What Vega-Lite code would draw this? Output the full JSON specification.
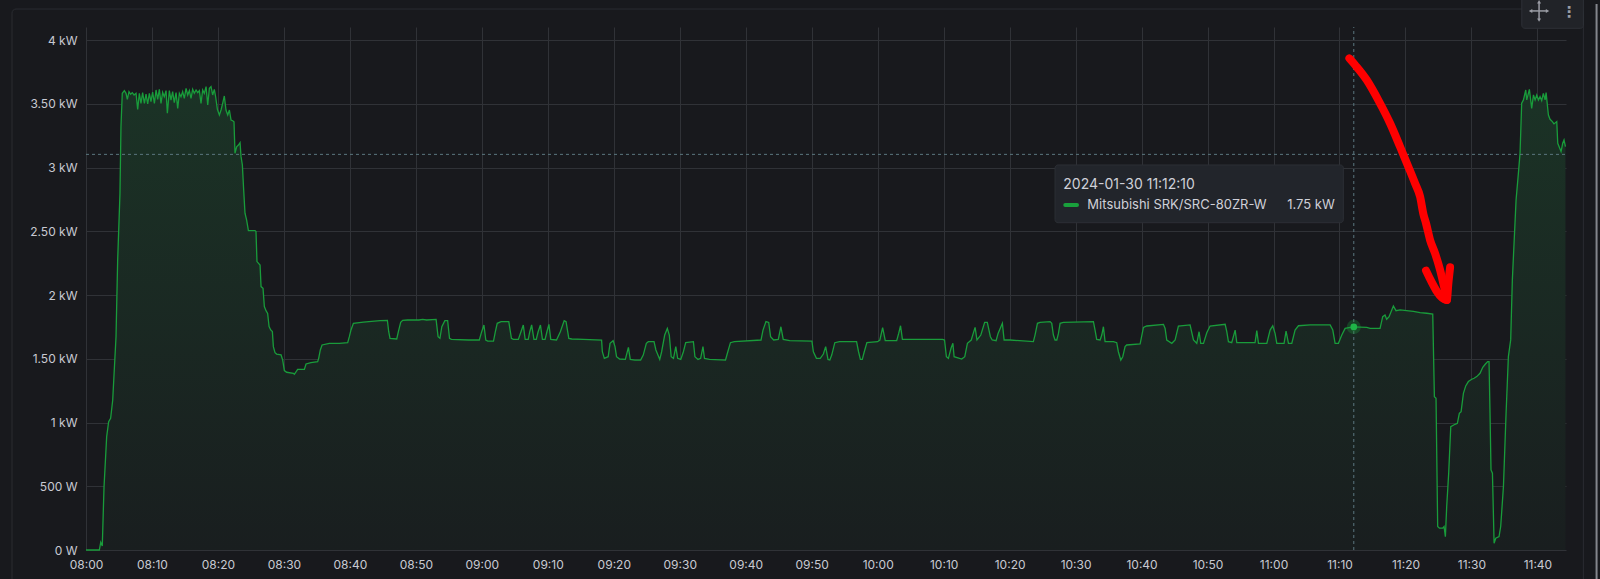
{
  "$schema": "https://vega.github.io/schema/vega-lite/v6.json",
  "width": 1480,
  "height": 523,
  "autosize": {"type": "none"},
  "padding": {"left": 86, "top": 27, "right": 34, "bottom": 29},
  "background": "#18191d",
  "config": {"view": {"stroke": null}, "font": "Inter"},
  "datasets": {
    "main": [
      {"t":"2024-01-30T08:00:00Z","v":0},{"t":"2024-01-30T08:02:01Z","v":0},{"t":"2024-01-30T08:02:14Z","v":60},{"t":"2024-01-30T08:02:28Z","v":31},
      {"t":"2024-01-30T08:02:44Z","v":497},{"t":"2024-01-30T08:03:08Z","v":889},{"t":"2024-01-30T08:03:26Z","v":1006},{"t":"2024-01-30T08:03:44Z","v":1033},
      {"t":"2024-01-30T08:04:03Z","v":1176},{"t":"2024-01-30T08:04:33Z","v":1673},{"t":"2024-01-30T08:04:48Z","v":2275},{"t":"2024-01-30T08:05:09Z","v":2797},
      {"t":"2024-01-30T08:05:18Z","v":3320},{"t":"2024-01-30T08:05:30Z","v":3582},{"t":"2024-01-30T08:05:49Z","v":3603},{"t":"2024-01-30T08:06:04Z","v":3582},
      {"t":"2024-01-30T08:06:16Z","v":3535},{"t":"2024-01-30T08:06:31Z","v":3595},{"t":"2024-01-30T08:06:46Z","v":3574},{"t":"2024-01-30T08:07:01Z","v":3587},
      {"t":"2024-01-30T08:07:17Z","v":3569},{"t":"2024-01-30T08:07:35Z","v":3582},{"t":"2024-01-30T08:07:50Z","v":3456},{"t":"2024-01-30T08:08:05Z","v":3582},
      {"t":"2024-01-30T08:08:20Z","v":3503},{"t":"2024-01-30T08:08:35Z","v":3587},{"t":"2024-01-30T08:08:51Z","v":3503},{"t":"2024-01-30T08:09:06Z","v":3576},
      {"t":"2024-01-30T08:09:21Z","v":3498},{"t":"2024-01-30T08:09:36Z","v":3582},{"t":"2024-01-30T08:09:51Z","v":3516},{"t":"2024-01-30T08:10:06Z","v":3592},
      {"t":"2024-01-30T08:10:22Z","v":3503},{"t":"2024-01-30T08:10:37Z","v":3608},{"t":"2024-01-30T08:10:52Z","v":3535},{"t":"2024-01-30T08:11:07Z","v":3613},
      {"t":"2024-01-30T08:11:22Z","v":3503},{"t":"2024-01-30T08:11:37Z","v":3589},{"t":"2024-01-30T08:11:52Z","v":3555},{"t":"2024-01-30T08:12:08Z","v":3603},
      {"t":"2024-01-30T08:12:20Z","v":3425},{"t":"2024-01-30T08:12:38Z","v":3603},{"t":"2024-01-30T08:12:53Z","v":3529},{"t":"2024-01-30T08:13:08Z","v":3595},
      {"t":"2024-01-30T08:13:23Z","v":3508},{"t":"2024-01-30T08:13:39Z","v":3587},{"t":"2024-01-30T08:13:54Z","v":3464},{"t":"2024-01-30T08:14:09Z","v":3582},
      {"t":"2024-01-30T08:14:24Z","v":3555},{"t":"2024-01-30T08:14:39Z","v":3595},{"t":"2024-01-30T08:14:54Z","v":3542},{"t":"2024-01-30T08:15:10Z","v":3621},
      {"t":"2024-01-30T08:15:25Z","v":3569},{"t":"2024-01-30T08:15:40Z","v":3603},{"t":"2024-01-30T08:15:55Z","v":3542},{"t":"2024-01-30T08:16:10Z","v":3613},
      {"t":"2024-01-30T08:16:25Z","v":3582},{"t":"2024-01-30T08:16:41Z","v":3608},{"t":"2024-01-30T08:16:56Z","v":3587},{"t":"2024-01-30T08:17:11Z","v":3603},
      {"t":"2024-01-30T08:17:26Z","v":3503},{"t":"2024-01-30T08:17:41Z","v":3608},{"t":"2024-01-30T08:17:56Z","v":3582},{"t":"2024-01-30T08:18:12Z","v":3634},
      {"t":"2024-01-30T08:18:27Z","v":3490},{"t":"2024-01-30T08:18:42Z","v":3621},{"t":"2024-01-30T08:18:57Z","v":3634},{"t":"2024-01-30T08:19:12Z","v":3569},
      {"t":"2024-01-30T08:19:27Z","v":3613},{"t":"2024-01-30T08:19:39Z","v":3555},{"t":"2024-01-30T08:19:55Z","v":3456},{"t":"2024-01-30T08:20:13Z","v":3412},
      {"t":"2024-01-30T08:20:28Z","v":3451},{"t":"2024-01-30T08:20:43Z","v":3503},{"t":"2024-01-30T08:20:58Z","v":3561},{"t":"2024-01-30T08:21:13Z","v":3451},
      {"t":"2024-01-30T08:21:29Z","v":3412},{"t":"2024-01-30T08:21:44Z","v":3451},{"t":"2024-01-30T08:21:59Z","v":3372},{"t":"2024-01-30T08:22:14Z","v":3367},
      {"t":"2024-01-30T08:22:26Z","v":3359},{"t":"2024-01-30T08:22:35Z","v":3111},{"t":"2024-01-30T08:22:50Z","v":3163},{"t":"2024-01-30T08:23:06Z","v":3176},
      {"t":"2024-01-30T08:23:21Z","v":3195},{"t":"2024-01-30T08:23:30Z","v":3085},{"t":"2024-01-30T08:23:42Z","v":3020},{"t":"2024-01-30T08:23:54Z","v":2824},
      {"t":"2024-01-30T08:24:06Z","v":2641},{"t":"2024-01-30T08:24:21Z","v":2588},{"t":"2024-01-30T08:24:37Z","v":2505},{"t":"2024-01-30T08:25:37Z","v":2505},
      {"t":"2024-01-30T08:25:46Z","v":2497},{"t":"2024-01-30T08:25:55Z","v":2262},{"t":"2024-01-30T08:26:23Z","v":2235},{"t":"2024-01-30T08:26:32Z","v":2066},
      {"t":"2024-01-30T08:26:50Z","v":2052},{"t":"2024-01-30T08:27:02Z","v":1909},{"t":"2024-01-30T08:27:17Z","v":1877},{"t":"2024-01-30T08:27:32Z","v":1856},
      {"t":"2024-01-30T08:27:45Z","v":1752},{"t":"2024-01-30T08:28:00Z","v":1726},{"t":"2024-01-30T08:28:15Z","v":1713},{"t":"2024-01-30T08:28:24Z","v":1595},
      {"t":"2024-01-30T08:28:39Z","v":1548},{"t":"2024-01-30T08:28:54Z","v":1537},{"t":"2024-01-30T08:29:34Z","v":1530},{"t":"2024-01-30T08:29:49Z","v":1490},
      {"t":"2024-01-30T08:30:04Z","v":1407},{"t":"2024-01-30T08:30:25Z","v":1394},{"t":"2024-01-30T08:31:26Z","v":1386},{"t":"2024-01-30T08:31:35Z","v":1378},
      {"t":"2024-01-30T08:32:05Z","v":1417},{"t":"2024-01-30T08:33:06Z","v":1417},{"t":"2024-01-30T08:33:21Z","v":1459},{"t":"2024-01-30T08:34:06Z","v":1470},
      {"t":"2024-01-30T08:35:07Z","v":1477},{"t":"2024-01-30T08:35:16Z","v":1503},{"t":"2024-01-30T08:35:31Z","v":1569},{"t":"2024-01-30T08:35:47Z","v":1608},
      {"t":"2024-01-30T08:36:53Z","v":1621},{"t":"2024-01-30T08:38:24Z","v":1621},{"t":"2024-01-30T08:39:40Z","v":1626},{"t":"2024-01-30T08:39:55Z","v":1673},
      {"t":"2024-01-30T08:40:10Z","v":1726},{"t":"2024-01-30T08:40:32Z","v":1778},{"t":"2024-01-30T08:42:02Z","v":1788},{"t":"2024-01-30T08:44:34Z","v":1799},
      {"t":"2024-01-30T08:45:41Z","v":1801},{"t":"2024-01-30T08:45:53Z","v":1712},{"t":"2024-01-30T08:46:05Z","v":1660},{"t":"2024-01-30T08:47:06Z","v":1655},
      {"t":"2024-01-30T08:47:21Z","v":1712},{"t":"2024-01-30T08:47:42Z","v":1786},{"t":"2024-01-30T08:48:00Z","v":1801},{"t":"2024-01-30T08:48:44Z","v":1804},
      {"t":"2024-01-30T08:50:28Z","v":1804},{"t":"2024-01-30T08:51:02Z","v":1809},{"t":"2024-01-30T08:51:37Z","v":1804},{"t":"2024-01-30T08:53:04Z","v":1809},
      {"t":"2024-01-30T08:53:22Z","v":1673},{"t":"2024-01-30T08:53:39Z","v":1660},{"t":"2024-01-30T08:53:56Z","v":1751},{"t":"2024-01-30T08:54:24Z","v":1799},
      {"t":"2024-01-30T08:54:49Z","v":1799},{"t":"2024-01-30T08:55:06Z","v":1660},{"t":"2024-01-30T08:55:23Z","v":1652},{"t":"2024-01-30T08:58:00Z","v":1647},
      {"t":"2024-01-30T08:59:37Z","v":1647},{"t":"2024-01-30T08:59:54Z","v":1699},{"t":"2024-01-30T09:00:19Z","v":1765},{"t":"2024-01-30T09:00:36Z","v":1647},
      {"t":"2024-01-30T09:00:54Z","v":1639},{"t":"2024-01-30T09:01:46Z","v":1639},{"t":"2024-01-30T09:02:03Z","v":1712},{"t":"2024-01-30T09:02:20Z","v":1778},
      {"t":"2024-01-30T09:02:55Z","v":1791},{"t":"2024-01-30T09:04:05Z","v":1791},{"t":"2024-01-30T09:04:29Z","v":1660},{"t":"2024-01-30T09:04:46Z","v":1652},
      {"t":"2024-01-30T09:05:32Z","v":1652},{"t":"2024-01-30T09:05:56Z","v":1712},{"t":"2024-01-30T09:06:17Z","v":1765},{"t":"2024-01-30T09:06:34Z","v":1652},
      {"t":"2024-01-30T09:07:02Z","v":1652},{"t":"2024-01-30T09:07:16Z","v":1712},{"t":"2024-01-30T09:07:33Z","v":1765},{"t":"2024-01-30T09:07:54Z","v":1652},
      {"t":"2024-01-30T09:08:15Z","v":1652},{"t":"2024-01-30T09:08:32Z","v":1712},{"t":"2024-01-30T09:08:53Z","v":1765},{"t":"2024-01-30T09:09:11Z","v":1652},
      {"t":"2024-01-30T09:09:35Z","v":1652},{"t":"2024-01-30T09:09:52Z","v":1712},{"t":"2024-01-30T09:10:10Z","v":1770},{"t":"2024-01-30T09:10:27Z","v":1652},
      {"t":"2024-01-30T09:11:19Z","v":1647},{"t":"2024-01-30T09:11:54Z","v":1712},{"t":"2024-01-30T09:12:29Z","v":1799},{"t":"2024-01-30T09:12:46Z","v":1791},
      {"t":"2024-01-30T09:13:11Z","v":1660},{"t":"2024-01-30T09:13:38Z","v":1655},{"t":"2024-01-30T09:15:23Z","v":1652},{"t":"2024-01-30T09:18:09Z","v":1647},
      {"t":"2024-01-30T09:18:16Z","v":1555},{"t":"2024-01-30T09:18:34Z","v":1503},{"t":"2024-01-30T09:19:09Z","v":1516},{"t":"2024-01-30T09:19:26Z","v":1621},
      {"t":"2024-01-30T09:19:54Z","v":1642},{"t":"2024-01-30T09:20:11Z","v":1595},{"t":"2024-01-30T09:20:25Z","v":1516},{"t":"2024-01-30T09:20:53Z","v":1498},
      {"t":"2024-01-30T09:21:45Z","v":1495},{"t":"2024-01-30T09:22:13Z","v":1589},{"t":"2024-01-30T09:22:30Z","v":1495},{"t":"2024-01-30T09:23:12Z","v":1490},
      {"t":"2024-01-30T09:24:04Z","v":1490},{"t":"2024-01-30T09:24:28Z","v":1529},{"t":"2024-01-30T09:24:56Z","v":1621},{"t":"2024-01-30T09:25:14Z","v":1634},
      {"t":"2024-01-30T09:26:06Z","v":1634},{"t":"2024-01-30T09:26:23Z","v":1569},{"t":"2024-01-30T09:26:58Z","v":1495},{"t":"2024-01-30T09:27:15Z","v":1555},
      {"t":"2024-01-30T09:27:43Z","v":1686},{"t":"2024-01-30T09:28:07Z","v":1738},{"t":"2024-01-30T09:28:25Z","v":1686},{"t":"2024-01-30T09:28:42Z","v":1516},
      {"t":"2024-01-30T09:29:03Z","v":1503},{"t":"2024-01-30T09:29:24Z","v":1595},{"t":"2024-01-30T09:29:41Z","v":1503},{"t":"2024-01-30T09:30:09Z","v":1495},
      {"t":"2024-01-30T09:30:33Z","v":1555},{"t":"2024-01-30T09:30:54Z","v":1626},{"t":"2024-01-30T09:32:04Z","v":1634},{"t":"2024-01-30T09:32:18Z","v":1516},
      {"t":"2024-01-30T09:32:46Z","v":1495},{"t":"2024-01-30T09:33:10Z","v":1503},{"t":"2024-01-30T09:33:31Z","v":1595},{"t":"2024-01-30T09:33:45Z","v":1503},
      {"t":"2024-01-30T09:34:30Z","v":1495},{"t":"2024-01-30T09:36:56Z","v":1490},{"t":"2024-01-30T09:37:17Z","v":1555},{"t":"2024-01-30T09:37:41Z","v":1626},
      {"t":"2024-01-30T09:38:16Z","v":1634},{"t":"2024-01-30T09:42:19Z","v":1647},{"t":"2024-01-30T09:42:37Z","v":1725},{"t":"2024-01-30T09:43:04Z","v":1791},
      {"t":"2024-01-30T09:43:29Z","v":1785},{"t":"2024-01-30T09:43:46Z","v":1673},{"t":"2024-01-30T09:44:14Z","v":1647},{"t":"2024-01-30T09:44:56Z","v":1652},
      {"t":"2024-01-30T09:45:20Z","v":1751},{"t":"2024-01-30T09:45:41Z","v":1652},{"t":"2024-01-30T09:46:40Z","v":1642},{"t":"2024-01-30T09:50:02Z","v":1639},
      {"t":"2024-01-30T09:50:15Z","v":1555},{"t":"2024-01-30T09:50:43Z","v":1503},{"t":"2024-01-30T09:51:18Z","v":1503},{"t":"2024-01-30T09:51:46Z","v":1537},
      {"t":"2024-01-30T09:52:07Z","v":1595},{"t":"2024-01-30T09:52:28Z","v":1495},{"t":"2024-01-30T09:52:45Z","v":1490},{"t":"2024-01-30T09:53:02Z","v":1529},
      {"t":"2024-01-30T09:53:30Z","v":1626},{"t":"2024-01-30T09:54:12Z","v":1634},{"t":"2024-01-30T09:56:48Z","v":1634},{"t":"2024-01-30T09:57:06Z","v":1555},
      {"t":"2024-01-30T09:57:23Z","v":1495},{"t":"2024-01-30T09:57:40Z","v":1495},{"t":"2024-01-30T09:57:58Z","v":1555},{"t":"2024-01-30T09:58:22Z","v":1626},
      {"t":"2024-01-30T09:59:59Z","v":1634},{"t":"2024-01-30T10:00:20Z","v":1647},{"t":"2024-01-30T10:00:45Z","v":1744},{"t":"2024-01-30T10:01:09Z","v":1642},
      {"t":"2024-01-30T10:02:53Z","v":1642},{"t":"2024-01-30T10:03:11Z","v":1699},{"t":"2024-01-30T10:03:28Z","v":1759},{"t":"2024-01-30T10:03:45Z","v":1652},
      {"t":"2024-01-30T10:09:50Z","v":1652},{"t":"2024-01-30T10:10:08Z","v":1647},{"t":"2024-01-30T10:10:25Z","v":1516},{"t":"2024-01-30T10:10:43Z","v":1503},
      {"t":"2024-01-30T10:11:07Z","v":1582},{"t":"2024-01-30T10:11:24Z","v":1621},{"t":"2024-01-30T10:11:35Z","v":1516},{"t":"2024-01-30T10:12:44Z","v":1498},
      {"t":"2024-01-30T10:13:12Z","v":1516},{"t":"2024-01-30T10:13:36Z","v":1621},{"t":"2024-01-30T10:14:11Z","v":1647},{"t":"2024-01-30T10:14:29Z","v":1699},
      {"t":"2024-01-30T10:14:46Z","v":1746},{"t":"2024-01-30T10:15:03Z","v":1647},{"t":"2024-01-30T10:15:38Z","v":1686},{"t":"2024-01-30T10:16:13Z","v":1785},
      {"t":"2024-01-30T10:16:37Z","v":1785},{"t":"2024-01-30T10:17:05Z","v":1673},{"t":"2024-01-30T10:17:22Z","v":1647},{"t":"2024-01-30T10:17:57Z","v":1642},
      {"t":"2024-01-30T10:18:15Z","v":1699},{"t":"2024-01-30T10:18:54Z","v":1778},{"t":"2024-01-30T10:19:10Z","v":1647},{"t":"2024-01-30T10:20:04Z","v":1647},
      {"t":"2024-01-30T10:23:36Z","v":1634},{"t":"2024-01-30T10:23:51Z","v":1686},{"t":"2024-01-30T10:24:13Z","v":1778},{"t":"2024-01-30T10:24:37Z","v":1785},
      {"t":"2024-01-30T10:26:08Z","v":1791},{"t":"2024-01-30T10:26:23Z","v":1778},{"t":"2024-01-30T10:26:38Z","v":1686},{"t":"2024-01-30T10:26:53Z","v":1647},
      {"t":"2024-01-30T10:27:09Z","v":1647},{"t":"2024-01-30T10:27:24Z","v":1699},{"t":"2024-01-30T10:27:39Z","v":1778},{"t":"2024-01-30T10:28:09Z","v":1785},
      {"t":"2024-01-30T10:32:42Z","v":1791},{"t":"2024-01-30T10:32:57Z","v":1725},{"t":"2024-01-30T10:33:12Z","v":1652},{"t":"2024-01-30T10:33:43Z","v":1647},
      {"t":"2024-01-30T10:33:58Z","v":1686},{"t":"2024-01-30T10:34:13Z","v":1751},{"t":"2024-01-30T10:34:28Z","v":1634},{"t":"2024-01-30T10:35:44Z","v":1634},
      {"t":"2024-01-30T10:36:14Z","v":1626},{"t":"2024-01-30T10:36:29Z","v":1555},{"t":"2024-01-30T10:36:51Z","v":1490},{"t":"2024-01-30T10:37:09Z","v":1516},
      {"t":"2024-01-30T10:37:30Z","v":1595},{"t":"2024-01-30T10:37:45Z","v":1608},{"t":"2024-01-30T10:39:47Z","v":1616},{"t":"2024-01-30T10:40:17Z","v":1746},
      {"t":"2024-01-30T10:40:47Z","v":1757},{"t":"2024-01-30T10:43:19Z","v":1770},{"t":"2024-01-30T10:43:34Z","v":1738},{"t":"2024-01-30T10:43:49Z","v":1647},
      {"t":"2024-01-30T10:44:35Z","v":1621},{"t":"2024-01-30T10:45:05Z","v":1647},{"t":"2024-01-30T10:45:35Z","v":1757},{"t":"2024-01-30T10:47:21Z","v":1765},
      {"t":"2024-01-30T10:47:52Z","v":1647},{"t":"2024-01-30T10:48:22Z","v":1621},{"t":"2024-01-30T10:48:43Z","v":1712},{"t":"2024-01-30T10:48:58Z","v":1621},
      {"t":"2024-01-30T10:49:23Z","v":1621},{"t":"2024-01-30T10:49:53Z","v":1704},{"t":"2024-01-30T10:50:23Z","v":1757},{"t":"2024-01-30T10:52:40Z","v":1770},
      {"t":"2024-01-30T10:52:55Z","v":1712},{"t":"2024-01-30T10:53:10Z","v":1634},{"t":"2024-01-30T10:53:40Z","v":1626},{"t":"2024-01-30T10:54:11Z","v":1725},
      {"t":"2024-01-30T10:54:26Z","v":1626},{"t":"2024-01-30T10:57:12Z","v":1626},{"t":"2024-01-30T10:57:28Z","v":1720},{"t":"2024-01-30T10:57:43Z","v":1621},
      {"t":"2024-01-30T10:58:59Z","v":1621},{"t":"2024-01-30T10:59:29Z","v":1725},{"t":"2024-01-30T10:59:53Z","v":1759},{"t":"2024-01-30T11:00:14Z","v":1699},
      {"t":"2024-01-30T11:00:30Z","v":1621},{"t":"2024-01-30T11:01:36Z","v":1621},{"t":"2024-01-30T11:01:54Z","v":1717},{"t":"2024-01-30T11:02:16Z","v":1621},
      {"t":"2024-01-30T11:02:46Z","v":1621},{"t":"2024-01-30T11:03:16Z","v":1725},{"t":"2024-01-30T11:03:47Z","v":1759},{"t":"2024-01-30T11:05:33Z","v":1765},
      {"t":"2024-01-30T11:08:35Z","v":1765},{"t":"2024-01-30T11:08:59Z","v":1725},{"t":"2024-01-30T11:09:20Z","v":1621},{"t":"2024-01-30T11:09:50Z","v":1621},
      {"t":"2024-01-30T11:10:21Z","v":1686},{"t":"2024-01-30T11:10:51Z","v":1738},{"t":"2024-01-30T11:11:37Z","v":1746},{"t":"2024-01-30T11:12:10Z","v":1750},
      {"t":"2024-01-30T11:14:08Z","v":1746},{"t":"2024-01-30T11:14:38Z","v":1738},{"t":"2024-01-30T11:16:09Z","v":1739},{"t":"2024-01-30T11:16:33Z","v":1830},
      {"t":"2024-01-30T11:16:54Z","v":1843},{"t":"2024-01-30T11:17:09Z","v":1810},{"t":"2024-01-30T11:17:31Z","v":1830},{"t":"2024-01-30T11:18:10Z","v":1914},
      {"t":"2024-01-30T11:18:34Z","v":1877},{"t":"2024-01-30T11:19:11Z","v":1883},{"t":"2024-01-30T11:20:11Z","v":1877},{"t":"2024-01-30T11:21:12Z","v":1872},
      {"t":"2024-01-30T11:22:13Z","v":1862},{"t":"2024-01-30T11:23:13Z","v":1857},{"t":"2024-01-30T11:24:08Z","v":1851},{"t":"2024-01-30T11:24:14Z","v":1595},
      {"t":"2024-01-30T11:24:23Z","v":1203},{"t":"2024-01-30T11:24:38Z","v":1190},{"t":"2024-01-30T11:24:53Z","v":184},{"t":"2024-01-30T11:25:09Z","v":171},
      {"t":"2024-01-30T11:25:39Z","v":171},{"t":"2024-01-30T11:25:51Z","v":184},{"t":"2024-01-30T11:26:03Z","v":105},{"t":"2024-01-30T11:26:15Z","v":340},
      {"t":"2024-01-30T11:26:33Z","v":602},{"t":"2024-01-30T11:26:52Z","v":968},{"t":"2024-01-30T11:27:31Z","v":986},{"t":"2024-01-30T11:27:52Z","v":994},
      {"t":"2024-01-30T11:28:10Z","v":1072},{"t":"2024-01-30T11:28:26Z","v":1085},{"t":"2024-01-30T11:28:47Z","v":1229},{"t":"2024-01-30T11:29:08Z","v":1287},
      {"t":"2024-01-30T11:29:32Z","v":1321},{"t":"2024-01-30T11:30:03Z","v":1339},{"t":"2024-01-30T11:30:24Z","v":1347},{"t":"2024-01-30T11:30:48Z","v":1360},
      {"t":"2024-01-30T11:31:18Z","v":1386},{"t":"2024-01-30T11:31:43Z","v":1433},{"t":"2024-01-30T11:32:07Z","v":1459},{"t":"2024-01-30T11:32:28Z","v":1478},
      {"t":"2024-01-30T11:32:40Z","v":1478},{"t":"2024-01-30T11:32:49Z","v":1072},{"t":"2024-01-30T11:32:58Z","v":628},{"t":"2024-01-30T11:33:11Z","v":602},
      {"t":"2024-01-30T11:33:26Z","v":53},{"t":"2024-01-30T11:33:41Z","v":92},{"t":"2024-01-30T11:34:11Z","v":105},{"t":"2024-01-30T11:34:26Z","v":184},
      {"t":"2024-01-30T11:34:51Z","v":497},{"t":"2024-01-30T11:35:15Z","v":1072},{"t":"2024-01-30T11:35:36Z","v":1517},{"t":"2024-01-30T11:35:57Z","v":1648},
      {"t":"2024-01-30T11:36:12Z","v":2118},{"t":"2024-01-30T11:36:46Z","v":2746},{"t":"2024-01-30T11:37:07Z","v":2955},{"t":"2024-01-30T11:37:22Z","v":3112},
      {"t":"2024-01-30T11:37:37Z","v":3504},{"t":"2024-01-30T11:37:53Z","v":3530},{"t":"2024-01-30T11:38:14Z","v":3608},{"t":"2024-01-30T11:38:23Z","v":3530},
      {"t":"2024-01-30T11:38:47Z","v":3613},{"t":"2024-01-30T11:39:08Z","v":3464},{"t":"2024-01-30T11:39:24Z","v":3569},{"t":"2024-01-30T11:39:39Z","v":3530},
      {"t":"2024-01-30T11:39:54Z","v":3569},{"t":"2024-01-30T11:40:09Z","v":3530},{"t":"2024-01-30T11:40:24Z","v":3556},{"t":"2024-01-30T11:40:39Z","v":3525},
      {"t":"2024-01-30T11:40:54Z","v":3582},{"t":"2024-01-30T11:41:10Z","v":3530},{"t":"2024-01-30T11:41:19Z","v":3587},{"t":"2024-01-30T11:41:40Z","v":3412},
      {"t":"2024-01-30T11:41:55Z","v":3378},{"t":"2024-01-30T11:42:16Z","v":3360},{"t":"2024-01-30T11:42:31Z","v":3342},{"t":"2024-01-30T11:42:56Z","v":3360},
      {"t":"2024-01-30T11:43:05Z","v":3190},{"t":"2024-01-30T11:43:35Z","v":3125},{"t":"2024-01-30T11:43:50Z","v":3190},{"t":"2024-01-30T11:44:02Z","v":3216},
      {"t":"2024-01-30T11:44:15Z","v":3164}
    ],
    "arrow": [
      {"g":"s","t":"2024-01-30T11:11:30Z","v":3856},{"g":"s","t":"2024-01-30T11:12:22Z","v":3804},
      {"g":"s","t":"2024-01-30T11:14:08Z","v":3686},{"g":"s","t":"2024-01-30T11:15:53Z","v":3529},
      {"g":"s","t":"2024-01-30T11:17:40Z","v":3347},{"g":"s","t":"2024-01-30T11:19:11Z","v":3163},
      {"g":"s","t":"2024-01-30T11:20:26Z","v":3006},{"g":"s","t":"2024-01-30T11:21:27Z","v":2876},
      {"g":"s","t":"2024-01-30T11:22:13Z","v":2771},{"g":"s","t":"2024-01-30T11:22:43Z","v":2635},
      {"g":"s","t":"2024-01-30T11:23:07Z","v":2562},{"g":"s","t":"2024-01-30T11:23:44Z","v":2431},
      {"g":"s","t":"2024-01-30T11:24:29Z","v":2327},{"g":"s","t":"2024-01-30T11:25:15Z","v":2196},
      {"g":"s","t":"2024-01-30T11:25:51Z","v":2065},{"g":"s","t":"2024-01-30T11:26:16Z","v":1961},
      {"g":"h","t":"2024-01-30T11:23:07Z","v":2191},{"g":"h","t":"2024-01-30T11:26:16Z","v":1961},
      {"g":"h","t":"2024-01-30T11:26:30Z","v":2092},{"g":"h","t":"2024-01-30T11:26:46Z","v":2217}
    ]
  },
  "encoding": {
    "x": {
      "field": "t", "type": "temporal",
      "scale": {"type": "utc", "domain": [1706601600000, 1706615060000], "nice": false},
      "axis": {"labelExpr": "utcFormat(datum.value, '%H:%M')", "values": [1706601600000, 1706602200000, 1706602800000, 1706603400000, 1706604000000, 1706604600000, 1706605200000, 1706605800000, 1706606400000, 1706607000000, 1706607600000, 1706608200000, 1706608800000, 1706609400000, 1706610000000, 1706610600000, 1706611200000, 1706611800000, 1706612400000, 1706613000000, 1706613600000, 1706614200000, 1706614800000], "grid": true, "gridColor": "#303237", "gridWidth": 1, "domain": false, "ticks": false, "tickSize": 0, "labelPadding": 9, "labelColor": "#c8c9d2", "labelFont": "Inter", "labelFontSize": 12, "labelFlush": false, "labelOverlap": false, "title": null}
    },
    "y": {
      "field": "v", "type": "quantitative",
      "scale": {"domain": [0, 4102], "nice": false, "zero": false},
      "axis": {"values": [0, 500, 1000, 1500, 2000, 2500, 3000, 3500, 4000], "labelExpr": "datum.value < 1000 ? datum.value + ' W' : (datum.value % 1000 == 0 ? (datum.value / 1000) + ' kW' : format(datum.value / 1000, '.2f') + ' kW')", "grid": true, "gridColor": "#303237", "gridWidth": 1, "domain": false, "ticks": false, "tickSize": 0, "labelPadding": 9, "labelColor": "#c8c9d2", "labelFont": "Inter", "labelFontSize": 12, "title": null}
    }
  },
  "layer": [
    {"data": {"values": [{"t": "2024-01-30T07:48:47Z", "t2": "2024-01-30T11:46:58Z", "v": 4243, "v2": -1500}]},
     "mark": {"type": "rect", "filled": false, "stroke": "#2a2c31", "strokeWidth": 1, "cornerRadius": 4},
     "encoding": {"x2": {"field": "t2"}, "y2": {"field": "v2"}}},
    {"data": {"name": "main"},
     "mark": {"type": "area", "interpolate": "linear", "color": {"gradient": "linear", "x1": 0, "y1": 0, "x2": 0, "y2": 1, "stops": [{"offset": 0, "color": "#1b3326"}, {"offset": 1, "color": "#191e1f"}]}}},
    {"data": {"name": "main"},
     "mark": {"type": "line", "interpolate": "linear", "color": "#199c3b", "strokeWidth": 1.3}},
    {"data": {"values": [{"t": "2024-01-30T11:12:10Z", "v": 0, "v2": 4102}]},
     "mark": {"type": "rule", "color": "#5b777f", "strokeWidth": 1, "strokeDash": [3, 3]},
     "encoding": {"y2": {"field": "v2"}}},
    {"data": {"values": [{"t": "2024-01-30T08:00:00Z", "t2": "2024-01-30T11:44:20Z", "v": 3103}]},
     "mark": {"type": "rule", "color": "#5b777f", "strokeWidth": 1, "strokeDash": [3, 3]},
     "encoding": {"x2": {"field": "t2"}}},
    {"data": {"values": [{"t": "2024-01-30T11:12:10Z", "v": 1750}]},
     "mark": {"type": "circle", "color": "#19a03c", "size": 200, "opacity": 0.3}},
    {"data": {"values": [{"t": "2024-01-30T11:12:10Z", "v": 1750}]},
     "mark": {"type": "circle", "color": "#1fb548", "size": 45, "opacity": 1}},
    {"data": {"name": "arrow"},
     "mark": {"type": "line", "color": "#ff0000", "strokeWidth": 8, "strokeCap": "round", "strokeJoin": "round", "interpolate": "monotone"},
     "encoding": {"detail": {"field": "g", "type": "nominal"}}},
    {"data": {"values": [{"t": "2024-01-30T10:26:53Z", "t2": "2024-01-30T11:10:35Z", "v": 3020, "v2": 2567}]},
     "mark": {"type": "rect", "fill": "#22252b", "stroke": "#2c2f35", "strokeWidth": 1, "cornerRadius": 3},
     "encoding": {"x2": {"field": "t2"}, "y2": {"field": "v2"}}},
    {"data": {"values": [{"t": "2024-01-30T10:28:08Z", "v": 2831, "label": "2024-01-30 11:12:10"}]},
     "mark": {"type": "text", "align": "left", "baseline": "alphabetic", "font": "Inter", "fontSize": 14, "color": "#cfd0d8"},
     "encoding": {"text": {"field": "label"}}},
    {"data": {"values": [{"t": "2024-01-30T10:28:26Z", "t2": "2024-01-30T10:30:13Z", "v": 2706}]},
     "mark": {"type": "rule", "color": "#19a03c", "strokeWidth": 4, "strokeCap": "round"},
     "encoding": {"x2": {"field": "t2"}}},
    {"data": {"values": [{"t": "2024-01-30T10:31:47Z", "v": 2672, "label": "Mitsubishi SRK/SRC-80ZR-W"}]},
     "mark": {"type": "text", "align": "left", "baseline": "alphabetic", "font": "Inter", "fontSize": 13, "color": "#cfd0d8"},
     "encoding": {"text": {"field": "label"}}},
    {"data": {"values": [{"t": "2024-01-30T11:09:17Z", "v": 2672, "label": "1.75 kW"}]},
     "mark": {"type": "text", "align": "right", "baseline": "alphabetic", "font": "Inter", "fontSize": 13, "color": "#cfd0d8"},
     "encoding": {"text": {"field": "label"}}},
    {"data": {"values": [{"t": "2024-01-30T11:37:38Z", "t2": "2024-01-30T11:46:58Z", "v": 4360, "v2": 4092}]},
     "mark": {"type": "rect", "fill": "#212328", "stroke": "#2e3137", "strokeWidth": 1, "cornerRadius": 3},
     "encoding": {"x2": {"field": "t2"}, "y2": {"field": "v2"}}},
    {"data": {"values": [{"t": "2024-01-30T11:39:02Z", "t2": "2024-01-30T11:41:28Z", "v": 4228}]},
     "mark": {"type": "rule", "color": "#9b9da5", "strokeWidth": 1.5},
     "encoding": {"x2": {"field": "t2"}}},
    {"data": {"values": [{"t": "2024-01-30T11:40:15Z", "v": 4296, "v2": 4160}]},
     "mark": {"type": "rule", "color": "#9b9da5", "strokeWidth": 1.5},
     "encoding": {"y2": {"field": "v2"}}},
    {"data": {"values": [{"t": "2024-01-30T11:38:58Z", "v": 4228, "dir": "left"}, {"t": "2024-01-30T11:41:32Z", "v": 4228, "dir": "right"}, {"t": "2024-01-30T11:40:15Z", "v": 4300, "dir": "up"}, {"t": "2024-01-30T11:40:15Z", "v": 4156, "dir": "down"}]},
     "mark": {"type": "point", "filled": true, "color": "#9b9da5", "size": 16, "opacity": 1},
     "encoding": {"shape": {"field": "dir", "type": "nominal", "scale": {"domain": ["left", "right", "up", "down"], "range": ["triangle-left", "triangle-right", "triangle-up", "triangle-down"]}, "legend": null}}},
    {"data": {"values": [{"t": "2024-01-30T11:44:49Z", "v": 4220, "label": "⋮"}]},
     "mark": {"type": "text", "align": "center", "baseline": "middle", "font": "DejaVu Sans", "fontSize": 15, "fontWeight": "bold", "color": "#9b9da5"},
     "encoding": {"text": {"field": "label"}}},
    {"data": {"values": [{"t": "2024-01-30T11:48:58Z", "v": 4282, "v2": -500}]},
     "mark": {"type": "rule", "color": "#84868c", "strokeWidth": 2},
     "encoding": {"y2": {"field": "v2"}}}
  ]
}
